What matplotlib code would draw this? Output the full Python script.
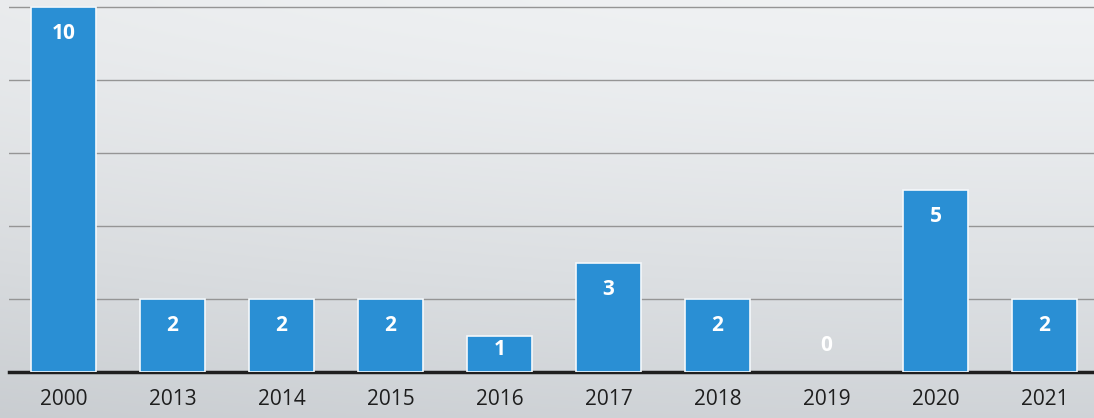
import numpy as np
import matplotlib
matplotlib.use("Agg")
import matplotlib.pyplot as plt

years = ["2000", "2013", "2014", "2015", "2016", "2017", "2018", "2019", "2020", "2021"]
counts = [10, 2, 2, 2, 1, 3, 2, 0, 5, 2]

W, H = 1094, 418
fig = plt.figure(figsize=(W / 100, H / 100), dpi=100)

# background gradient (scanned paper look): light at top, greyer at bottom
bg = fig.add_axes([0, 0, 1, 1], zorder=0)
yy = np.linspace(0, 1, 200)[:, None]
xx = np.linspace(0, 1, 300)[None, :]
top = np.array([0.94, 0.948, 0.955])
bot = np.array([0.815, 0.83, 0.845])
t = yy ** 1.3
img = top[None, None, :] * (1 - t[..., None]) + bot[None, None, :] * t[..., None]
img = img - 0.025 * (1 - xx[..., None]) ** 2
img = np.clip(np.broadcast_to(img, (200, 300, 3)), 0, 1)
bg.imshow(img, aspect="auto", extent=[0, 1, 0, 1], origin="upper")
bg.axis("off")

ax = fig.add_axes([9 / W, 1 - 372 / H, 1090 / W, 372 / H], zorder=1)
ax.patch.set_alpha(0)
x = np.arange(len(years))
lws = [1.2 if v > 0 else 0 for v in counts]
ax.bar(x, counts, width=0.6, color="#2a8fd4", edgecolor="#f4f8fb", linewidth=lws, zorder=3)

ax.set_xlim(-0.5, len(years) - 0.5)
ax.set_ylim(0, 10.2)
ax.set_yticks([2, 4, 6, 8, 10])
ax.yaxis.grid(True, color="#959595", linewidth=1.0, zorder=1)
ax.set_axisbelow(True)
ax.tick_params(axis="y", left=False, labelleft=False)
ax.tick_params(axis="x", length=0, pad=12, labelsize=15, labelcolor="#1e1e1e")
ax.set_xticks(x)
ax.set_xticklabels(years, fontfamily="Open Sans")
for s in ["top", "right", "left"]:
    ax.spines[s].set_visible(False)
ax.spines["bottom"].set_color("#1f1f1f")
ax.spines["bottom"].set_linewidth(2.5)


def label_y(v):
    if v >= 2:
        return v - 0.73
    if v == 1:
        return 0.63
    return 0.74


for xi, v in zip(x, counts):
    ax.text(xi, label_y(v), str(v), ha="center", va="center", color="white",
            fontsize=15, fontweight="bold", fontfamily="Open Sans", zorder=4)

fig.savefig("out.png", dpi=100)
